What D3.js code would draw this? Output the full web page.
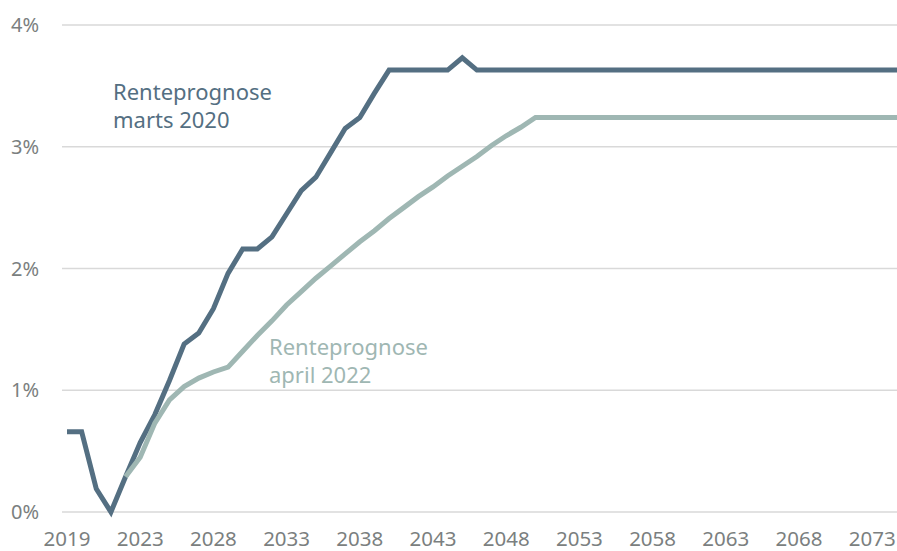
<!DOCTYPE html>
<html>
<head>
<meta charset="utf-8">
<script src="https://cdn.jsdelivr.net/npm/d3@7"></script>
<style>
  body { margin: 0; background: #fff; }
  svg { display: block; font-family: "Noto Sans", sans-serif; }
</style>
</head>
<body>
<div id="chart"></div>
<script>
// categories (first year appears twice in the source sheet)
const years = ["2019","2019","2020","2021","2022","2023","2024","2025","2026","2027",
  "2028","2029","2030","2031","2032","2033","2034","2035","2036","2037",
  "2038","2039","2040","2041","2042","2043","2044","2045","2046","2047",
  "2048","2049","2050","2051","2052","2053","2054","2055","2056","2057",
  "2058","2059","2060","2061","2062","2063","2064","2065","2066","2067",
  "2068","2069","2070","2071","2072","2073","2074","2075"];

// Renteprognose marts 2020 (%)
const marts2020 = [0.66,0.66,0.19,0.00,0.29,0.57,0.80,1.08,1.38,1.47,
  1.67,1.96,2.16,2.16,2.26,2.45,2.64,2.75,2.95,3.15,
  3.24,3.44,3.63,3.63,3.63,3.63,3.63,3.73,3.63,3.63,
  3.63,3.63,3.63,3.63,3.63,3.63,3.63,3.63,3.63,3.63,
  3.63,3.63,3.63,3.63,3.63,3.63,3.63,3.63,3.63,3.63,
  3.63,3.63,3.63,3.63,3.63,3.63,3.63,3.63];

// Renteprognose april 2022 (%)
const april2022 = [null,null,null,null,0.29,0.45,0.73,0.92,1.03,1.10,
  1.15,1.19,1.32,1.45,1.57,1.70,1.81,1.92,2.02,2.12,
  2.22,2.31,2.41,2.50,2.59,2.67,2.76,2.84,2.92,3.01,
  3.09,3.16,3.24,3.24,3.24,3.24,3.24,3.24,3.24,3.24,
  3.24,3.24,3.24,3.24,3.24,3.24,3.24,3.24,3.24,3.24,
  3.24,3.24,3.24,3.24,3.24,3.24,3.24,3.24];

const yTicks = [0, 1, 2, 3, 4];

const width = 897, height = 551;
const darkColor = "#546f82", lightColor = "#9fb7b3", axisColor = "#7b7f80";

const svg = d3.select("#chart").append("svg")
    .attr("width", width)
    .attr("height", height);

const x = d3.scaleLinear()
    .domain([0, years.length - 1])
    .range([67, 67 + (years.length - 1) * 14.64]);

const y = d3.scaleLinear()
    .domain([0, 4])
    .range([512, 25]);

// gridlines
svg.append("g")
  .selectAll("line")
  .data(yTicks)
  .join("line")
    .attr("x1", 62)
    .attr("x2", width)
    .attr("y1", d => y(d))
    .attr("y2", d => y(d))
    .attr("stroke", "#d9d9d9")
    .attr("stroke-width", 1.5);

// y axis labels
svg.append("g")
  .selectAll("text")
  .data(yTicks)
  .join("text")
    .attr("x", 39)
    .attr("y", d => y(d))
    .attr("dy", "0.35em")
    .attr("text-anchor", "end")
    .attr("fill", axisColor)
    .style("font-size", "20px")
    .text(d => d + "%");

// x axis labels, every fifth category
const xIdx = d3.range(0, years.length, 5);
svg.append("g")
  .selectAll("text")
  .data(xIdx)
  .join("text")
    .attr("x", d => x(d))
    .attr("y", 546)
    .attr("text-anchor", "middle")
    .attr("fill", axisColor)
    .style("font-size", "20.5px")
    .text(d => years[d]);

const line = d3.line()
    .defined(d => d != null)
    .x((d, i) => x(i))
    .y(d => y(d));

svg.append("path")
    .datum(marts2020)
    .attr("fill", "none")
    .attr("stroke", darkColor)
    .attr("stroke-width", 5)
    .attr("d", line);

svg.append("path")
    .datum(april2022)
    .attr("fill", "none")
    .attr("stroke", lightColor)
    .attr("stroke-width", 5)
    .attr("d", line);

// series labels
const lab1 = svg.append("text")
    .attr("x", 113)
    .attr("y", 100)
    .attr("fill", darkColor)
    .style("font-size", "22px");
lab1.append("tspan").attr("x", 113).text("Renteprognose");
lab1.append("tspan").attr("x", 113).attr("dy", 28).text("marts 2020");

const lab2 = svg.append("text")
    .attr("x", 269)
    .attr("y", 355)
    .attr("fill", lightColor)
    .style("font-size", "22px");
lab2.append("tspan").attr("x", 269).text("Renteprognose");
lab2.append("tspan").attr("x", 269).attr("dy", 28).text("april 2022");
</script>
</body>
</html>
